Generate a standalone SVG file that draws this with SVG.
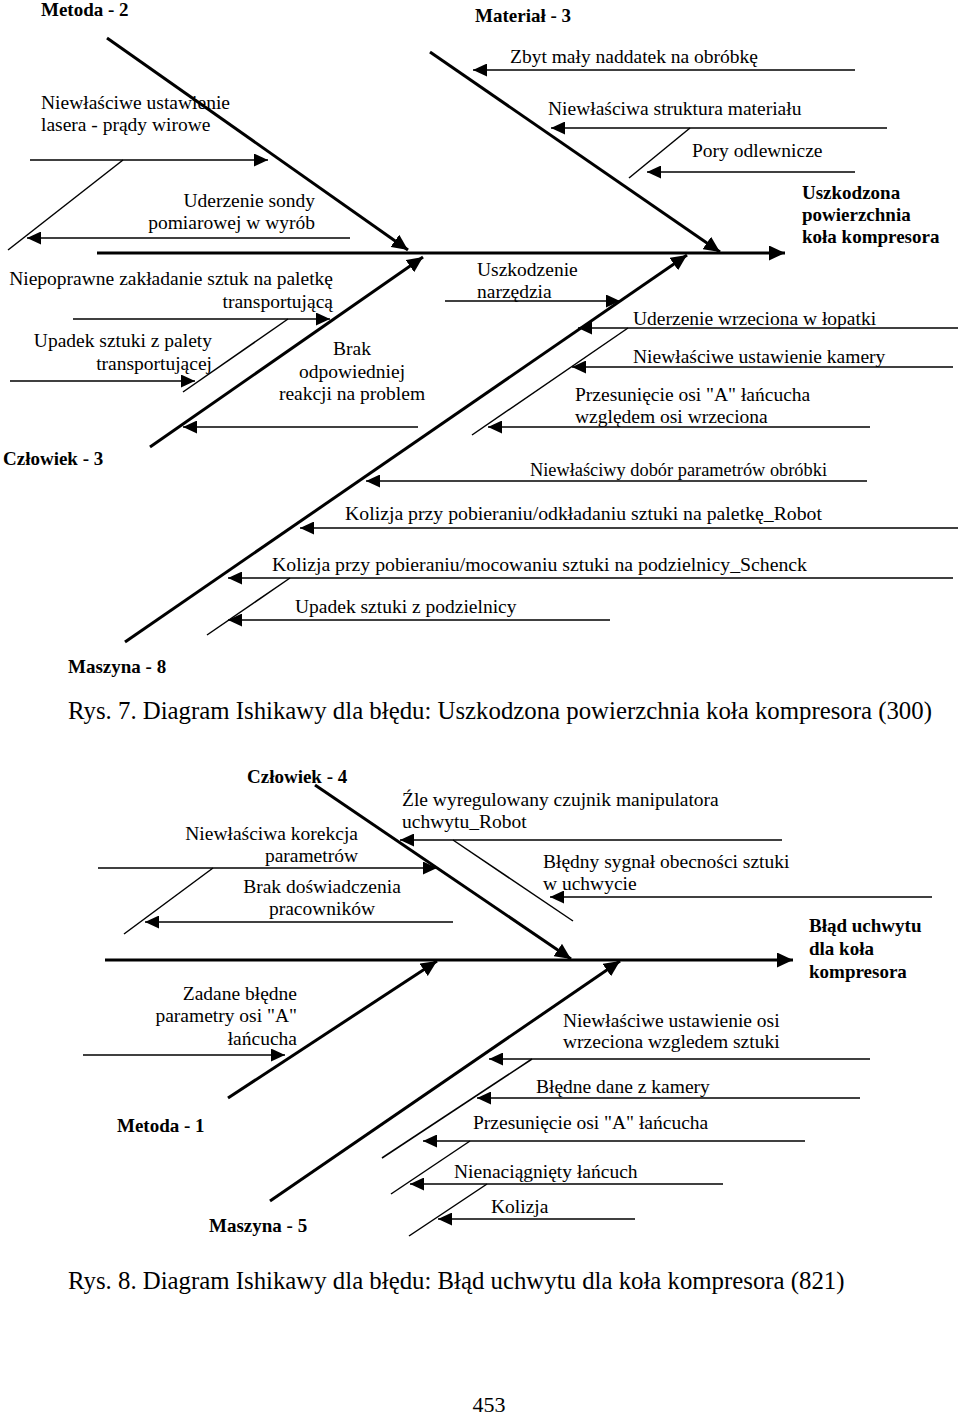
<svg xmlns="http://www.w3.org/2000/svg" width="960" height="1416" viewBox="0 0 960 1416">
<style>
.t{font-family:"Liberation Serif","Times New Roman",serif;font-size:19.5px;fill:#000}
.b{font-weight:bold;font-size:19px}
.e{text-anchor:end}
.m{text-anchor:middle}
.cap{font-size:24.8px}
.bone{stroke:#000;stroke-width:3;fill:none}
.sub{stroke:#000;stroke-width:1.5;fill:none}
.arr{marker-end:url(#ah)}
.arrb{marker-end:url(#ahb)}
</style>
<defs>
<marker id="ah" markerUnits="userSpaceOnUse" markerWidth="14" markerHeight="13" refX="14" refY="6.5" orient="auto"><path d="M0,0 L14,6.5 L0,13 z" fill="#000"/></marker>
<marker id="ahb" markerUnits="userSpaceOnUse" markerWidth="16" markerHeight="15" refX="16" refY="7.5" orient="auto"><path d="M0,0 L16,7.5 L0,15 z" fill="#000"/></marker>
</defs>
<rect width="960" height="1416" fill="#fff"/>
<g id="connectors">
<!-- top diagram -->
<line class="bone arrb" x1="97" y1="253" x2="785" y2="253"/>
<line class="bone arrb" x1="107" y1="38" x2="408" y2="250"/>
<line class="bone arrb" x1="150" y1="447" x2="423" y2="257"/>
<line class="bone arrb" x1="430" y1="52" x2="720" y2="252"/>
<line class="bone arrb" x1="125" y1="642" x2="687" y2="255"/>
<line class="sub arr" x1="30" y1="160" x2="268" y2="160"/>
<line class="sub" x1="123" y1="160" x2="8" y2="250"/>
<line class="sub arr" x1="350" y1="238" x2="27" y2="238"/>
<line class="sub arr" x1="73" y1="319" x2="330" y2="319"/>
<line class="sub" x1="288" y1="319" x2="183" y2="392"/>
<line class="sub arr" x1="10" y1="381" x2="195" y2="381"/>
<line class="sub arr" x1="418" y1="427" x2="183" y2="427"/>
<line class="sub arr" x1="855" y1="70" x2="473" y2="70"/>
<line class="sub arr" x1="887" y1="128" x2="551" y2="128"/>
<line class="sub" x1="690" y1="128" x2="629" y2="178"/>
<line class="sub arr" x1="855" y1="172" x2="647" y2="172"/>
<line class="sub arr" x1="445" y1="301" x2="620" y2="301"/>
<line class="sub arr" x1="958" y1="328" x2="578" y2="328"/>
<line class="sub" x1="628" y1="328" x2="472" y2="435"/>
<line class="sub arr" x1="953" y1="367" x2="572" y2="367"/>
<line class="sub arr" x1="870" y1="427" x2="488" y2="427"/>
<line class="sub arr" x1="867" y1="481" x2="366" y2="481"/>
<line class="sub arr" x1="958" y1="528" x2="300" y2="528"/>
<line class="sub arr" x1="953" y1="578" x2="228" y2="578"/>
<line class="sub" x1="290" y1="578" x2="207" y2="635"/>
<line class="sub arr" x1="610" y1="620" x2="228" y2="620"/>
<!-- bottom diagram -->
<line class="bone arrb" x1="105" y1="960" x2="793" y2="960"/>
<line class="bone arrb" x1="315" y1="785" x2="571" y2="959"/>
<line class="bone arrb" x1="228" y1="1098" x2="437" y2="961"/>
<line class="bone arrb" x1="270" y1="1201" x2="620" y2="961"/>
<line class="sub arr" x1="98" y1="868" x2="437" y2="868"/>
<line class="sub" x1="213" y1="868" x2="124" y2="934"/>
<line class="sub arr" x1="453" y1="922" x2="145" y2="922"/>
<line class="sub arr" x1="782" y1="840" x2="400" y2="840"/>
<line class="sub" x1="453" y1="840" x2="573" y2="921"/>
<line class="sub arr" x1="932" y1="897" x2="550" y2="897"/>
<line class="sub arr" x1="83" y1="1055" x2="285" y2="1055"/>
<line class="sub arr" x1="870" y1="1059" x2="489" y2="1059"/>
<line class="sub" x1="532" y1="1059" x2="382" y2="1158"/>
<line class="sub arr" x1="860" y1="1098" x2="477" y2="1098"/>
<line class="sub arr" x1="805" y1="1141" x2="423" y2="1141"/>
<line class="sub" x1="470" y1="1141" x2="391" y2="1194"/>
<line class="sub arr" x1="723" y1="1184" x2="410" y2="1184"/>
<line class="sub" x1="487" y1="1184" x2="409" y2="1236"/>
<line class="sub arr" x1="635" y1="1219" x2="438" y2="1219"/>
</g>
<!-- top diagram nodes -->
<g id="metoda2"><text class="t b" x="41" y="16">Metoda - 2</text></g>
<g id="material3"><text class="t b" x="475" y="22">Materiał - 3</text></g>
<g id="laser"><text class="t" x="41" y="109">Niewłaściwe ustawienie</text><text class="t" x="41" y="131">lasera - prądy wirowe</text></g>
<g id="sonda"><text class="t e" x="315" y="207">Uderzenie sondy</text><text class="t e" x="315" y="229">pomiarowej w wyrób</text></g>
<g id="zakladanie"><text class="t e" x="333" y="285">Niepoprawne zakładanie sztuk na paletkę</text><text class="t e" x="333" y="308">transportującą</text></g>
<g id="upadek-palety"><text class="t e" x="212" y="347">Upadek sztuki z palety</text><text class="t e" x="212" y="370">transportującej</text></g>
<g id="brak-reakcji"><text class="t m" x="352" y="355">Brak</text><text class="t m" x="352" y="378">odpowiedniej</text><text class="t m" x="352" y="400">reakcji na problem</text></g>
<g id="narzedzie"><text class="t" x="477" y="276">Uszkodzenie</text><text class="t" x="477" y="298">narzędzia</text></g>
<g id="naddatek"><text class="t" x="510" y="63">Zbyt mały naddatek na obróbkę</text></g>
<g id="struktura"><text class="t" x="548" y="115">Niewłaściwa struktura materiału</text></g>
<g id="pory"><text class="t" x="692" y="157">Pory odlewnicze</text></g>
<g id="effect1"><text class="t b" x="802" y="199">Uszkodzona</text><text class="t b" x="802" y="221">powierzchnia</text><text class="t b" x="802" y="243">koła kompresora</text></g>
<g id="wrzeciono"><text class="t" x="633" y="325">Uderzenie wrzeciona w łopatki</text></g>
<g id="kamera"><text class="t" x="633" y="363">Niewłaściwe ustawienie kamery</text></g>
<g id="przesuniecie1"><text class="t" x="575" y="401">Przesunięcie osi "A" łańcucha</text><text class="t" x="575" y="423">względem osi wrzeciona</text></g>
<g id="czlowiek3"><text class="t b" x="3" y="465">Człowiek - 3</text></g>
<g id="dobor"><text class="t" x="530" y="476" textLength="297" lengthAdjust="spacingAndGlyphs">Niewłaściwy dobór parametrów obróbki</text></g>
<g id="kolizja-robot"><text class="t" x="345" y="520" textLength="477" lengthAdjust="spacingAndGlyphs">Kolizja przy pobieraniu/odkładaniu sztuki na paletkę_Robot</text></g>
<g id="kolizja-schenck"><text class="t" x="272" y="571" textLength="535" lengthAdjust="spacingAndGlyphs">Kolizja przy pobieraniu/mocowaniu sztuki na podzielnicy_Schenck</text></g>
<g id="upadek-podzielnicy"><text class="t" x="295" y="613">Upadek sztuki z podzielnicy</text></g>
<g id="maszyna8"><text class="t b" x="68" y="673">Maszyna - 8</text></g>
<g id="caption7"><text class="t cap" x="68" y="719">Rys. 7. Diagram Ishikawy dla błędu: Uszkodzona powierzchnia koła kompresora (300)</text></g>
<!-- bottom diagram nodes -->
<g id="czlowiek4"><text class="t b" x="247" y="783">Człowiek - 4</text></g>
<g id="czujnik"><text class="t" x="402" y="806">Źle wyregulowany czujnik manipulatora</text><text class="t" x="402" y="828">uchwytu_Robot</text></g>
<g id="korekcja"><text class="t e" x="358" y="840">Niewłaściwa korekcja</text><text class="t e" x="358" y="862">parametrów</text></g>
<g id="sygnal"><text class="t" x="543" y="868">Błędny sygnał obecności sztuki</text><text class="t" x="543" y="890">w uchwycie</text></g>
<g id="doswiadczenie"><text class="t m" x="322" y="893">Brak doświadczenia</text><text class="t m" x="322" y="915">pracowników</text></g>
<g id="effect2"><text class="t b" x="809" y="932">Błąd uchwytu</text><text class="t b" x="809" y="955">dla koła</text><text class="t b" x="809" y="978">kompresora</text></g>
<g id="zadane"><text class="t e" x="297" y="1000">Zadane błędne</text><text class="t e" x="297" y="1022">parametry osi "A"</text><text class="t e" x="297" y="1045">łańcucha</text></g>
<g id="ustawienie-osi"><text class="t" x="563" y="1027">Niewłaściwe ustawienie osi</text><text class="t" x="563" y="1048">wrzeciona wzgledem sztuki</text></g>
<g id="dane-kamery"><text class="t" x="536" y="1093">Błędne dane z kamery</text></g>
<g id="metoda1"><text class="t b" x="117" y="1132">Metoda - 1</text></g>
<g id="przesuniecie2"><text class="t" x="473" y="1129">Przesunięcie osi "A" łańcucha</text></g>
<g id="lancuch"><text class="t" x="454" y="1178">Nienaciągnięty łańcuch</text></g>
<g id="kolizja"><text class="t" x="491" y="1213">Kolizja</text></g>
<g id="maszyna5"><text class="t b" x="209" y="1232">Maszyna - 5</text></g>
<g id="caption8"><text class="t cap" x="68" y="1289">Rys. 8. Diagram Ishikawy dla błędu: Błąd uchwytu dla koła kompresora (821)</text></g>
<g id="page"><text class="t m" x="489" y="1412" style="font-size:22px">453</text></g>
</svg>
